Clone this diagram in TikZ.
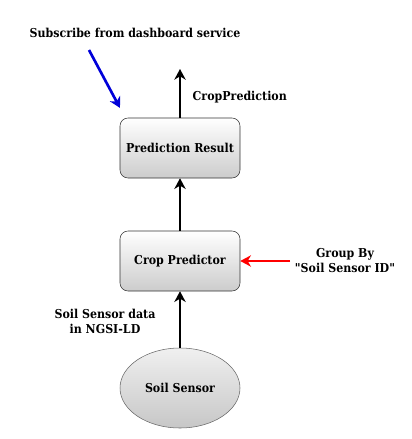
\documentclass[tikz,border=0pt]{standalone}
\usepackage{fontspec}
\setmainfont{DejaVu Serif Condensed}[Ligatures=TeXOff]
\usetikzlibrary{shapes.geometric,arrows.meta}

\begin{document}
\begin{tikzpicture}[%
    x=0.75pt, y=-0.75pt,
    font=\bfseries\fontsize{9.2}{11.25}\selectfont,
    block/.style={draw=black!80, rounded corners=6pt, top color=white,
        bottom color=black!20, minimum width=90pt, minimum height=45pt,
        inner sep=0pt},
    sensor/.style={ellipse, draw=black!60, top color=black!6,
        bottom color=black!22, minimum width=90pt, minimum height=60pt,
        inner sep=0pt},
    flow/.style={->, line width=1.4pt},
    >={Stealth[length=8pt, width=8.5pt, inset=2.5pt]} % Voreinstellung fuer Pfeilspitzen
    ]
        \useasboundingbox (0,0) rectangle (411,439);

        % Bausteine
        \node[block]  (result)    at (180,148) {Prediction Result};
        \node[block]  (predictor) at (180,261) {Crop Predictor};
        \node[sensor] (sensor)    at (180,388) {Soil Sensor};

        % Beschriftungen
        \node (subscribe) at (135,33) {Subscribe from dashboard service};
        \node[anchor=west] (croplabel) at (188,97) {CropPrediction};
        \node[align=center] (groupby) at (345,261) {Group By\\"Soil Sensor ID"};
        \node[align=center] (sensordata) at (105,321) {Soil Sensor data\\in NGSI-LD};

        \coordinate (out)     at (180,69);
        \coordinate (subfrom) at (89,50);
        \coordinate (subto)   at (120,108);
        \coordinate (redfrom) at (290,261);

        % Datenfluss
        \draw[flow] (sensor) -- (predictor);
        \draw[flow] (predictor) -- (result);
        \draw[flow] (result) -- (out);
        \draw[flow, red, line width=2pt] (redfrom) -- (predictor.east);
        \draw[flow, blue!85!black, line width=2pt] (subfrom) -- (subto);
    \end{tikzpicture}
\end{document}
